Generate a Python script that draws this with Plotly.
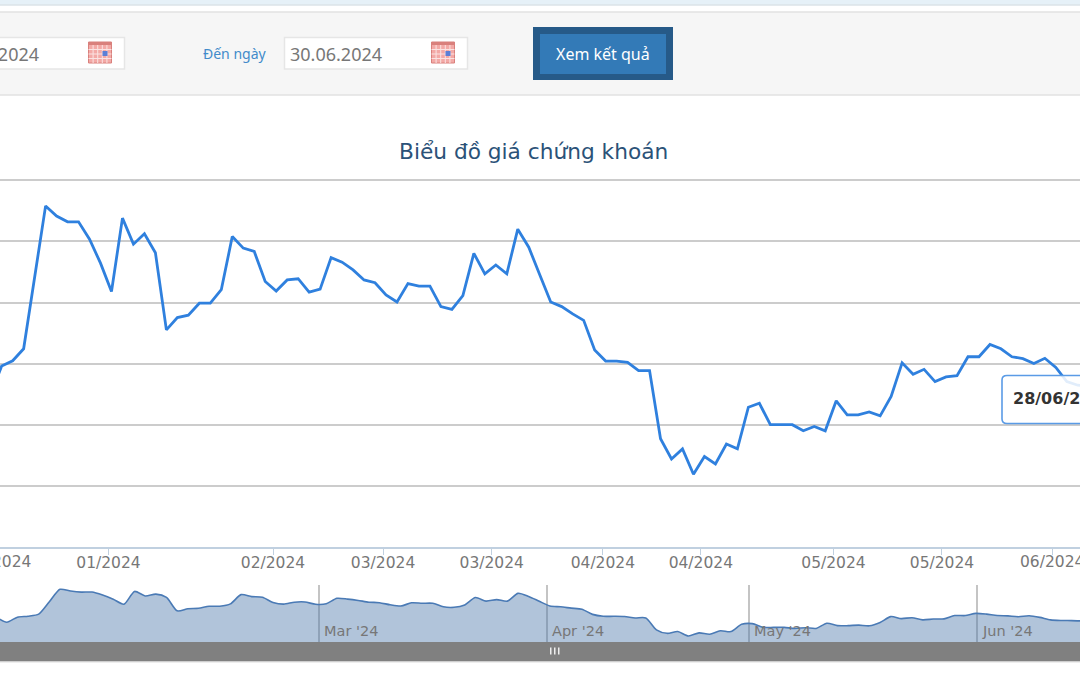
import plotly.graph_objects as go

WIDTH = 1080
HEIGHT = 675

TITLE = "Biểu đồ giá chứng khoán"
FROM_DATE = "01.01.2024"
TO_DATE = "30.06.2024"
TO_LABEL = "Đến ngày"
BUTTON_LABEL = "Xem kết quả"
TOOLTIP_DATE = "28/06/2024"

# closing price per trading session (the y axis labels are cut off in the picture)
prices = [
    23.96, 22.98, 23.93, 24.10, 24.49, 26.81, 29.16, 28.83, 28.64, 28.64,
    28.07, 27.29, 26.36, 28.76, 27.91, 28.25, 27.63, 25.11, 25.51, 25.59,
    25.98, 25.98, 26.42, 28.16, 27.78, 27.67, 26.69, 26.38, 26.74, 26.78,
    26.34, 26.44, 27.47, 27.32, 27.07, 26.74, 26.65, 26.25, 26.02, 26.62,
    26.54, 26.54, 25.87, 25.78, 26.23, 27.61, 26.94, 27.23, 26.94, 28.40,
    27.81, 26.91, 26.02, 25.87, 25.63, 25.42, 24.45, 24.09, 24.09, 24.05,
    23.78, 23.78, 21.55, 20.89, 21.22, 20.39, 20.97, 20.73, 21.38, 21.22,
    22.58, 22.71, 22.01, 22.01, 22.01, 21.81, 21.95, 21.81, 22.79, 22.33,
    22.33, 22.43, 22.30, 22.93, 24.03, 23.66, 23.82, 23.42, 23.57, 23.61,
    24.23, 24.23, 24.63, 24.49, 24.23, 24.17, 24.01, 24.18, 23.88, 23.42,
    23.30, 23.28, 23.20,
]
sessions = list(range(len(prices)))

tick_sessions = [11.73, 26.71, 36.73, 46.63, 56.75, 65.67, 77.75, 87.63, 97.66]
tick_labels = ["01/2024", "02/2024", "03/2024", "03/2024", "04/2024",
               "04/2024", "05/2024", "05/2024", "06/2024"]

month_sessions = [30.3, 51.75, 70.7, 92.1]
month_labels = ["Mar '24", "Apr '24", "May '24", "Jun '24"]

grid_prices = [20, 22, 24, 26, 28, 30]


def px_x(x):
    return x / WIDTH


def px_y(y):
    return 1 - y / HEIGHT


def box(x0, y0, x1, y1, fill, line=None, width=1, layer="below"):
    return dict(type="rect", xref="paper", yref="paper", layer=layer,
                x0=px_x(x0), x1=px_x(x1), y0=px_y(y1), y1=px_y(y0),
                fillcolor=fill, line=dict(color=line or fill, width=width if line else 0))


def calendar_icon(x0, y0):
    # little red calendar next to the date inputs
    shapes = [box(x0, y0, x0 + 23, y0 + 21, "#f3a9a6", "#d9807c")]
    shapes.append(box(x0, y0, x0 + 23, y0 + 3, "#d9807c"))
    for i in range(1, 5):
        shapes.append(box(x0 + i * 4.6 - 0.5, y0 + 3, x0 + i * 4.6 + 0.5, y0 + 21, "#fbe3e2"))
    for i in range(1, 4):
        shapes.append(box(x0, y0 + 3 + i * 4.5 - 0.5, x0 + 23, y0 + 3 + i * 4.5 + 0.5, "#fbe3e2"))
    shapes.append(box(x0 + 14, y0 + 9, x0 + 19, y0 + 14, "#5b7fd6"))
    return shapes


fig = go.Figure()

fig.add_trace(go.Scatter(
    x=sessions,
    y=prices,
    mode="lines",
    line=dict(color="#2f80de", width=2.8),
    hoverinfo="skip",
    showlegend=False,
))

# navigator under the chart
fig.add_trace(go.Scatter(
    x=sessions,
    y=prices,
    xaxis="x2",
    yaxis="y2",
    mode="lines",
    line=dict(color="#4a7ab5", width=1.6, shape="spline", smoothing=0.7),
    fill="tozeroy",
    fillcolor="rgba(69,114,167,0.42)",
    hoverinfo="skip",
    showlegend=False,
))

shapes = [
    box(0, 0, WIDTH, 4.5, "#e6f1f8"),
    box(0, 4.5, WIDTH, 5.5, "#c9d6de"),
    box(-2, 12, WIDTH + 2, 95, "#f6f6f6", "#e2e2e2", 1.5),
    box(-2, 37.5, 124.5, 69, "#ffffff", "#e6e6e6", 1.5),
    box(284.5, 37.5, 467.5, 69, "#ffffff", "#e6e6e6", 1.5),
    box(533, 27, 673, 80, "#265a88"),
    box(540, 34, 666, 74, "#337ab7"),
    box(-1, 642, WIDTH + 1, 661.5, "#808080"),
    box(-1, 661.5, WIDTH + 1, 662.5, "#dddddd"),
]
shapes += calendar_icon(88.5, 42)
shapes += calendar_icon(431.5, 42)
for grip_x in [550, 554, 558]:
    shapes.append(box(grip_x, 647.5, grip_x + 1.5, 654.5, "#eeeeee", layer="above"))

# tooltip, runs off the right side of the picture
shapes.append(dict(
    type="path",
    xref="paper",
    yref="paper",
    layer="above",
    path="M {a} {t} L {b} {t} L {b} {u} L {a} {u} Q {c} {u} {c} {v} L {c} {w} Q {c} {t} {a} {t} Z".format(
        a=px_x(1007), b=px_x(1090), c=px_x(1002), t=px_y(375.5), u=px_y(423.5),
        v=px_y(419), w=px_y(380)),
    fillcolor="rgba(255,255,255,0.86)",
    line=dict(color="#5a9be6", width=1.6),
))

annotations = [
    dict(text=FROM_DATE, x=px_x(40.5), y=px_y(54), xanchor="right",
         font=dict(family="Noto Sans", size=18, color="#777777")),
    dict(text=TO_DATE, x=px_x(287.5), y=px_y(54), xanchor="left",
         font=dict(family="Noto Sans", size=18, color="#777777")),
    dict(text=TO_LABEL, x=px_x(201), y=px_y(54), xanchor="left",
         font=dict(family="Noto Sans", size=14, color="#428bca")),
    dict(text=BUTTON_LABEL, x=px_x(603), y=px_y(54), xanchor="center",
         font=dict(family="Noto Sans", size=16, color="#ffffff")),
    dict(text=TITLE, x=px_x(533), y=px_y(151), xanchor="center",
         font=dict(family="DejaVu Sans", size=21.7, color="#2b5278")),
    # both cut off by the picture edge, so the axis would not draw them
    dict(text="01/2024", x=px_x(-1.5), y=px_y(562), xanchor="center",
         font=dict(family="DejaVu Sans", size=15.5, color="#777777")),
    dict(text=tick_labels[-1], x=px_x(1052), y=px_y(562), xanchor="center",
         font=dict(family="DejaVu Sans", size=15.5, color="#777777")),
    dict(text="<b>" + TOOLTIP_DATE + "</b>", x=px_x(1011), y=px_y(398), xanchor="left",
         font=dict(family="DejaVu Sans", size=16, color="#333333")),
]
for a in annotations:
    a.update(xref="paper", yref="paper", yanchor="middle", showarrow=False)

for session, label in zip(month_sessions, month_labels):
    annotations.append(dict(
        text=label, x=session, y=px_y(630.5), xref="x2", yref="paper",
        xanchor="left", yanchor="middle", xshift=3, showarrow=False,
        font=dict(family="DejaVu Sans", size=14.5, color="#777777"),
    ))

fig.update_layout(
    width=WIDTH,
    height=HEIGHT,
    autosize=False,
    margin=dict(l=0, r=0, t=0, b=0),
    paper_bgcolor="#ffffff",
    plot_bgcolor="rgba(0,0,0,0)",
    showlegend=False,
    hovermode=False,
    shapes=shapes,
    annotations=annotations,
    xaxis=dict(
        range=[1.847, 100.2],
        domain=[0, 1],
        anchor="y",
        tickmode="array",
        tickvals=tick_sessions,
        ticktext=tick_labels[:-1] + [""],
        ticks="outside",
        ticklen=7,
        tickcolor="#c0d0e0",
        tickwidth=1,
        ticklabelstandoff=-6,
        showline=True,
        linecolor="#c0d0e0",
        linewidth=1.5,
        showgrid=False,
        zeroline=False,
        tickfont=dict(family="DejaVu Sans", size=15.5, color="#777777"),
    ),
    yaxis=dict(
        # a little headroom so the top gridline is drawn
        range=[18.03, 30.17],
        domain=[px_y(546.5), px_y(175)],
        anchor="x",
        tickmode="array",
        tickvals=grid_prices,
        showticklabels=False,
        showgrid=True,
        gridcolor="#cccccc",
        gridwidth=1.5,
        zeroline=False,
    ),
    xaxis2=dict(
        range=[0.366, 101.77],
        domain=[0, 1],
        anchor="y2",
        tickmode="array",
        tickvals=month_sessions,
        showticklabels=False,
        showgrid=True,
        gridcolor="#c4c4c4",
        gridwidth=1.5,
        zeroline=False,
    ),
    yaxis2=dict(
        range=[19.26, 29.97],
        domain=[px_y(642), px_y(585)],
        anchor="x2",
        showticklabels=False,
        showgrid=False,
        zeroline=False,
    ),
)

fig.write_html("out.html", config=dict(displayModeBar=False),
               post_script="document.body.style.margin='0';document.body.style.overflow='hidden';")
